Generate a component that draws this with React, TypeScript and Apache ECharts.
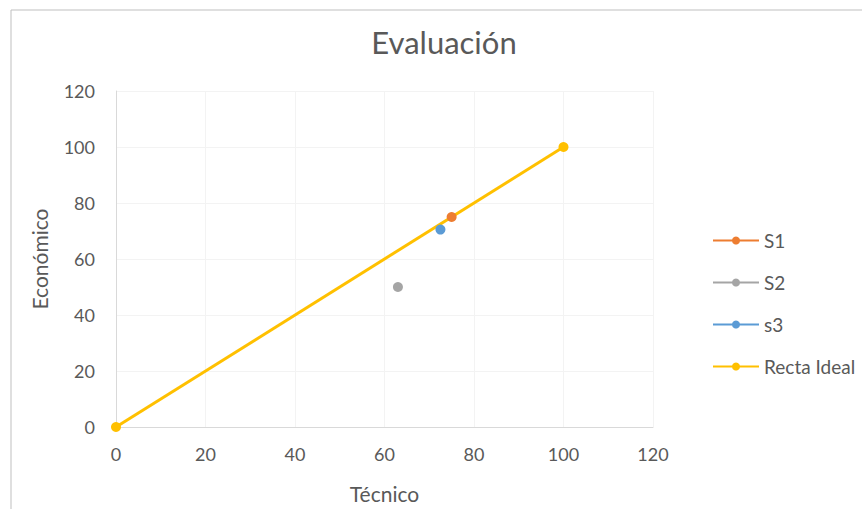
import React, { useEffect, useRef } from "react";
import * as echarts from "echarts";

const seriesNames = ["S1", "S2", "s3", "Recta Ideal"];
const s1Points = [[75, 75]];
const s2Points = [[63, 50]];
const s3Points = [[72.5, 70.5]];
const idealPoints = [[0, 0], [100, 100]];
const colors = ["#ED7D31", "#A5A5A5", "#5B9BD5", "#FFC000"];
const axisMin = 0;
const axisMax = 120;
const axisStep = 20;

const FONT = "Lato";

export default function App() {
  const ref = useRef<HTMLDivElement>(null);
  useEffect(() => {
    const chart = echarts.init(ref.current!, null, { renderer: "svg" });
    const data = [s1Points, s2Points, s3Points, idealPoints];
    chart.setOption({
      animation: false,
      backgroundColor: "#ffffff",
      textStyle: { fontFamily: FONT },
      title: {
        text: "Evaluación",
        left: 439,
        textAlign: "center",
        top: 21,
        textStyle: { fontFamily: FONT, fontSize: 31, fontWeight: "normal", color: "#595959" },
      },
      graphic: [
        {
          type: "rect",
          shape: { x: 11, y: 10, width: 900, height: 600 },
          style: { fill: "none", stroke: "#bfbfbf", lineWidth: 1 },
          silent: true,
        },
      ],
      legend: {
        orient: "vertical",
        left: 707,
        top: 226,
        itemGap: 23,
        itemWidth: 46,
        itemHeight: 10,
        data: seriesNames,
        textStyle: { fontFamily: FONT, fontSize: 19, color: "#595959" },
      },
      grid: { left: 116, right: 209, top: 91, bottom: 82, containLabel: false },
      xAxis: {
        type: "value",
        min: axisMin,
        max: axisMax,
        interval: axisStep,
        name: "Técnico",
        nameLocation: "middle",
        nameGap: 56,
        nameTextStyle: { fontFamily: FONT, fontSize: 21, color: "#595959" },
        axisLine: { show: true, lineStyle: { color: "#d9d9d9", width: 1 } },
        axisTick: { show: false },
        axisLabel: { fontFamily: FONT, fontSize: 18, color: "#595959", margin: 18 },
        splitLine: { show: true, lineStyle: { color: "#f3f3f3", width: 1 } },
      },
      yAxis: {
        type: "value",
        min: axisMin,
        max: axisMax,
        interval: axisStep,
        name: "Económico",
        nameLocation: "middle",
        nameGap: 66,
        nameTextStyle: { fontFamily: FONT, fontSize: 21, color: "#595959" },
        axisLine: { show: true, lineStyle: { color: "#d9d9d9", width: 1 } },
        axisTick: { show: false },
        axisLabel: { fontFamily: FONT, fontSize: 18, color: "#595959", margin: 21 },
        splitLine: { show: true, lineStyle: { color: "#f3f3f3", width: 1 } },
      },
      series: seriesNames.map((name, i) => ({
        name,
        type: "line",
        data: data[i],
        symbol: "circle",
        symbolSize: 10,
        showSymbol: true,
        itemStyle: { color: colors[i] },
        lineStyle: { color: colors[i], width: 3 },
        z: i === 3 ? 2 : 3,
      })),
    });
    return () => chart.dispose();
  }, []);
  return (
    <div
      ref={ref}
      style={{ position: "fixed", left: 0, top: 0, width: 862, height: 509 }}
    />
  );
}
